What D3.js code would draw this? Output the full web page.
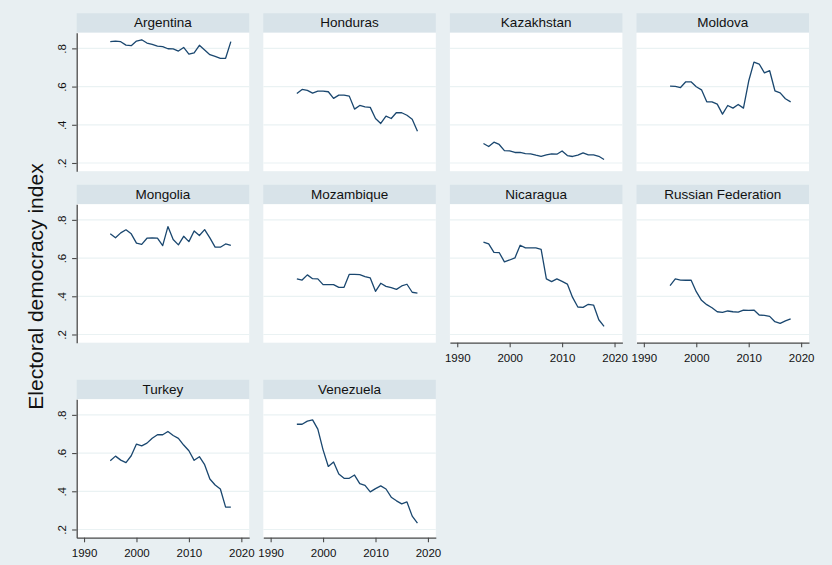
<!DOCTYPE html>
<html>
<head>
<meta charset="utf-8">
<script src="https://cdn.jsdelivr.net/npm/d3@7"></script>
<style>
  body { margin: 0; background: #e8eff2; }
  svg { display: block; }
  text { font-family: "Liberation Sans", Arial, Helvetica, sans-serif; fill: #111; }
</style>
</head>
<body>
<svg id="chart" width="832" height="565"></svg>
<script>
// Electoral democracy index, 1995-2018
const years = d3.range(1995, 2019);

const argentina  = [0.835,0.838,0.835,0.817,0.814,0.838,0.845,0.828,0.821,0.812,0.809,0.798,0.797,0.786,0.805,0.770,0.777,0.816,0.791,0.767,0.758,0.748,0.748,0.835];
const honduras   = [0.564,0.585,0.580,0.566,0.576,0.576,0.573,0.538,0.555,0.555,0.550,0.482,0.501,0.494,0.491,0.433,0.407,0.445,0.433,0.464,0.463,0.450,0.429,0.366];
const kazakhstan = [0.302,0.286,0.309,0.297,0.265,0.263,0.255,0.255,0.249,0.248,0.241,0.235,0.242,0.248,0.246,0.263,0.239,0.234,0.241,0.253,0.242,0.242,0.235,0.218];
const moldova    = [0.602,0.601,0.595,0.625,0.625,0.599,0.583,0.520,0.520,0.508,0.456,0.501,0.487,0.506,0.487,0.629,0.728,0.718,0.672,0.683,0.578,0.567,0.536,0.520];
const mongolia   = [0.727,0.706,0.732,0.748,0.727,0.678,0.672,0.704,0.706,0.704,0.665,0.765,0.697,0.669,0.714,0.686,0.742,0.718,0.749,0.706,0.657,0.657,0.674,0.667];
const mozambique = [0.491,0.485,0.512,0.492,0.491,0.461,0.461,0.461,0.447,0.447,0.515,0.515,0.513,0.503,0.496,0.426,0.468,0.452,0.445,0.436,0.454,0.463,0.421,0.417];
const nicaragua  = [0.683,0.674,0.630,0.629,0.580,0.590,0.601,0.667,0.653,0.653,0.653,0.646,0.491,0.477,0.491,0.478,0.464,0.394,0.344,0.342,0.358,0.354,0.277,0.242];
const russia     = [0.456,0.491,0.485,0.484,0.485,0.424,0.379,0.356,0.340,0.319,0.316,0.323,0.319,0.317,0.328,0.326,0.328,0.302,0.300,0.295,0.267,0.258,0.271,0.282];
const turkey     = [0.560,0.584,0.563,0.550,0.586,0.647,0.638,0.652,0.678,0.696,0.696,0.713,0.692,0.677,0.642,0.612,0.562,0.581,0.539,0.464,0.433,0.412,0.317,0.317];
const venezuela  = [0.751,0.751,0.767,0.774,0.725,0.617,0.530,0.553,0.490,0.468,0.468,0.485,0.440,0.431,0.397,0.414,0.428,0.412,0.369,0.350,0.334,0.344,0.270,0.233];

const countries = ["Argentina", "Honduras", "Kazakhstan", "Moldova", "Mongolia",
                   "Mozambique", "Nicaragua", "Russian Federation", "Turkey", "Venezuela"];
const seriesValues = [argentina, honduras, kazakhstan, moldova, mongolia,
                      mozambique, nicaragua, russia, turkey, venezuela];

const yTicks = [0.2, 0.4, 0.6, 0.8];
const xTicks = [1990, 2000, 2010, 2020];
const yTitle = "Electoral democracy index";

// ---- layout ----
const nCols = 4;
const colLeft0 = 76.7, colStep = 186.6;
const panelW = 172.5, plotH = 138.5, headH = 19.4;
const rowTops = [32.7, 204.2, 399.2];
const lineColor = "#1a476f";
const axisColor = "#4a4a4a";

const svg = d3.select("#chart");
svg.append("rect").attr("width", 832).attr("height", 565).attr("fill", "#e8eff2");

const x = d3.scaleLinear().domain([1988.6, 2021.5]).range([0, panelW]);
const y = d3.scaleLinear().domain([0.157, 0.882]).range([plotH, 0]);
const fmtY = d => d3.format(".1f")(d).replace(/^0/, "");

const line = d3.line().x((d, i) => x(years[i])).y(d => y(d));

const n = countries.length;
countries.forEach((name, k) => {
  const col = k % nCols, row = Math.floor(k / nCols);
  const left = colLeft0 + col * colStep, top = rowTops[row];
  const g = svg.append("g").attr("transform", `translate(${left},${top})`);

  // header band
  g.append("rect").attr("x", 0).attr("y", -headH).attr("width", panelW).attr("height", headH)
    .attr("fill", "#d8e3e9");
  g.append("text").attr("x", panelW / 2).attr("y", -headH + 13.8)
    .attr("text-anchor", "middle").attr("font-size", 13.5).text(name);

  // plot region
  g.append("rect").attr("width", panelW).attr("height", plotH).attr("fill", "#fff");
  g.selectAll("line.grid").data(yTicks).join("line").attr("class", "grid")
    .attr("x1", 0).attr("x2", panelW).attr("y1", d => y(d)).attr("y2", d => y(d))
    .attr("stroke", "#eaf2f3").attr("stroke-width", 1.2);

  g.append("path").datum(seriesValues[k]).attr("d", line)
    .attr("fill", "none").attr("stroke", lineColor).attr("stroke-width", 1.3)
    .attr("stroke-linejoin", "round");

  // y axis on the first column
  if (col === 0) {
    const ya = g.append("g").call(d3.axisLeft(y).tickValues(yTicks).tickFormat(fmtY)
      .tickSize(4.6).tickSizeOuter(0));
    ya.select(".domain").attr("stroke", axisColor).attr("stroke-width", 1.3);
    ya.selectAll(".tick line").attr("stroke", axisColor).attr("stroke-width", 1.1);
    ya.selectAll(".tick text").attr("transform", "rotate(-90)")
      .attr("x", 0).attr("y", -10.7).attr("dy", 0).attr("text-anchor", "middle")
      .attr("font-size", 11.5).attr("fill", "#111");
  }

  // x axis on the bottom panel of each column
  const below = k + nCols;
  if (below >= n) {
    const xa = g.append("g").attr("transform", `translate(0,${plotH})`)
      .call(d3.axisBottom(x).tickValues(xTicks).tickFormat(d3.format("d"))
        .tickSize(4.6).tickSizeOuter(0).tickPadding(7));
    xa.select(".domain").attr("stroke", axisColor).attr("stroke-width", 1.3);
    xa.selectAll(".tick line").attr("stroke", axisColor).attr("stroke-width", 1.1);
    xa.selectAll(".tick text").attr("font-size", 11.5).attr("fill", "#111");
  }
});

svg.selectAll(".tick text").style("font-family", '"Liberation Sans", Arial, Helvetica, sans-serif');

// overall y title
svg.append("text").attr("transform", "translate(42.5,286.5) rotate(-90)")
  .attr("text-anchor", "middle").attr("font-size", 21).text(yTitle);
</script>
</body>
</html>
